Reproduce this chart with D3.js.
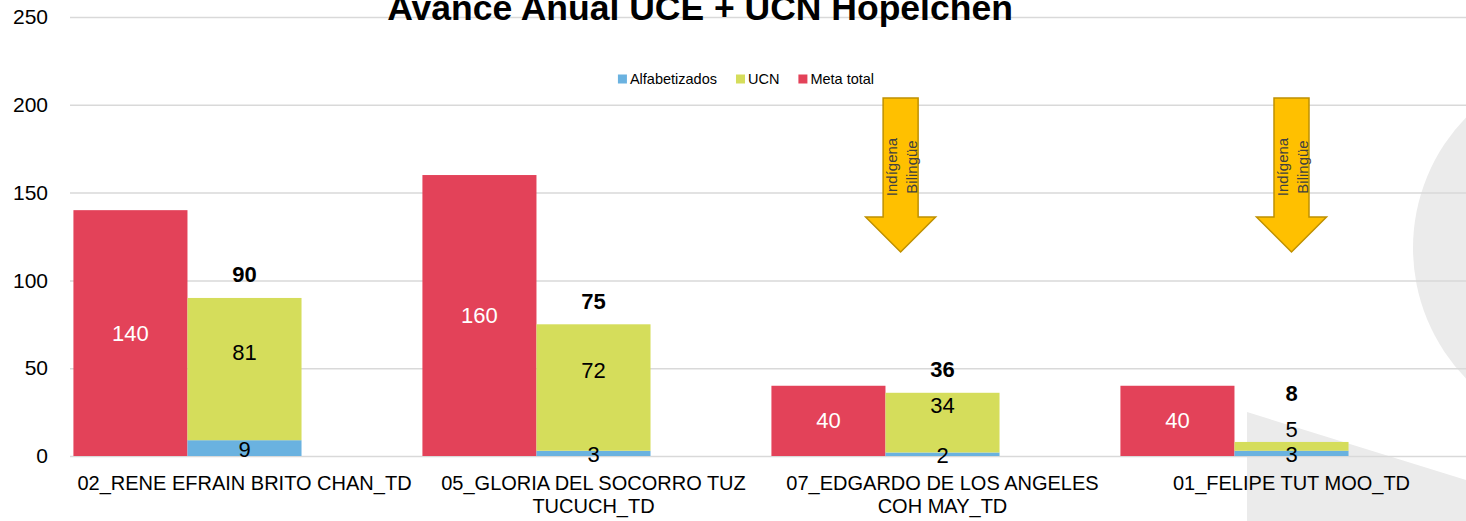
<!DOCTYPE html>
<html>
<head>
<meta charset="utf-8">
<script src="https://cdn.jsdelivr.net/npm/d3@7.9.0/dist/d3.min.js"></script>
<style>
  html, body { margin: 0; padding: 0; background: #fff; }
  svg { display: block; font-family: "Liberation Sans", Arial, sans-serif; }
</style>
</head>
<body>
<div id="chart"></div>
<script>
// data
const categories = [
  "02_RENE EFRAIN BRITO CHAN_TD",
  "05_GLORIA DEL SOCORRO TUZ TUCUCH_TD",
  "07_EDGARDO DE LOS ANGELES COH MAY_TD",
  "01_FELIPE TUT MOO_TD"
];
const alfabetizados = [9, 3, 2, 3];
const ucn = [81, 72, 34, 5];
const metaTotal = [140, 160, 40, 40];
const yTicks = [0, 50, 100, 150, 200, 250];
const seriesNames = ["Alfabetizados", "UCN", "Meta total"];
const arrowCategories = [categories[2], categories[3]];
const arrowText = ["Indígena", "Bilingüe"];
const title = "Avance Anual UCE + UCN Hopelchén";

const colors = { "Alfabetizados": "#6ab2e0", "UCN": "#d5dd5b", "Meta total": "#e34259" };

const width = 1466, height = 521;
const margin = { top: 17, right: 0, bottom: 65, left: 70 };

const svg = d3.select('#chart').append('svg')
  .attr('width', width).attr('height', height);

// light grey decoration in the background (right side)
const bg = svg.append('g').attr('class', 'bg');
bg.append('circle').attr('cx', 1600).attr('cy', 248).attr('r', 187).attr('fill', '#ebebeb');
bg.append('path').attr('d', 'M1247,412 L1466,480 L1466,521 L1247,521 Z').attr('fill', '#ebebeb');

const x = d3.scaleBand().domain(categories).range([margin.left, width - margin.right]);
const xSub = d3.scaleBand().domain(['meta', 'avance', 'blank'])
  .range([0, x.bandwidth()]).paddingOuter(0.03);
const y = d3.scaleLinear().domain([0, 250]).range([height - margin.bottom, margin.top]);

// gridlines + y labels
const yAxis = svg.append('g')
  .attr('transform', `translate(${margin.left},0)`)
  .call(d3.axisLeft(y).tickValues(yTicks).tickSize(-(width - margin.left - margin.right)).tickPadding(22));
yAxis.select('.domain').remove();
yAxis.selectAll('line').attr('stroke', '#d9d9d9').attr('stroke-width', 1.5);
yAxis.selectAll('text').attr('font-size', 21).attr('fill', '#000')
  .attr('font-family', '"Liberation Sans", Arial, sans-serif');

const rows = categories.map((c, i) => ({
  cat: c, alf: alfabetizados[i], ucn: ucn[i], meta: metaTotal[i], total: alfabetizados[i] + ucn[i]
}));

const bars = svg.append('g').attr('class', 'bars');

// Meta total
bars.selectAll('rect.meta').data(rows).join('rect')
  .attr('class', 'meta')
  .attr('x', d => x(d.cat) + xSub('meta'))
  .attr('width', xSub.bandwidth())
  .attr('y', d => y(d.meta))
  .attr('height', d => y(0) - y(d.meta))
  .attr('fill', colors["Meta total"]);

// Alfabetizados (bottom of stack)
bars.selectAll('rect.alf').data(rows).join('rect')
  .attr('class', 'alf')
  .attr('x', d => x(d.cat) + xSub('avance'))
  .attr('width', xSub.bandwidth())
  .attr('y', d => y(d.alf))
  .attr('height', d => y(0) - y(d.alf))
  .attr('fill', colors["Alfabetizados"]);

// UCN on top
bars.selectAll('rect.ucn').data(rows).join('rect')
  .attr('class', 'ucn')
  .attr('x', d => x(d.cat) + xSub('avance'))
  .attr('width', xSub.bandwidth())
  .attr('y', d => y(d.total))
  .attr('height', d => y(d.alf) - y(d.total))
  .attr('fill', colors["UCN"]);

// labels
const labels = svg.append('g').attr('class', 'labels').attr('font-size', 22);
const ucnLabelY = d => (y(d.alf) + y(d.total)) / 2 - 17;

labels.selectAll('text.meta').data(rows).join('text')
  .attr('x', d => x(d.cat) + xSub('meta') + xSub.bandwidth() / 2)
  .attr('y', d => (y(0) + y(d.meta)) / 2)
  .attr('text-anchor', 'middle').attr('dominant-baseline', 'central')
  .attr('fill', '#fff').text(d => d.meta);

labels.selectAll('text.alf').data(rows).join('text')
  .attr('x', d => x(d.cat) + xSub('avance') + xSub.bandwidth() / 2)
  .attr('y', d => (y(0) + y(d.alf)) / 2 + 1)
  .attr('text-anchor', 'middle').attr('dominant-baseline', 'central')
  .attr('fill', '#000').text(d => d.alf);

labels.selectAll('text.ucn').data(rows).join('text')
  .attr('x', d => x(d.cat) + xSub('avance') + xSub.bandwidth() / 2)
  .attr('y', ucnLabelY)
  .attr('text-anchor', 'middle').attr('dominant-baseline', 'central')
  .attr('fill', '#000').text(d => d.ucn);

labels.selectAll('text.total').data(rows).join('text')
  .attr('x', d => x(d.cat) + xSub('avance') + xSub.bandwidth() / 2)
  .attr('y', d => Math.min(y(d.total) - 23, ucnLabelY(d) - 36))
  .attr('text-anchor', 'middle').attr('dominant-baseline', 'central')
  .attr('font-weight', 'bold').attr('fill', '#000').text(d => d.total);

// category labels, wrapped to band width
const catG = svg.append('g').attr('class', 'cats');
categories.forEach(c => {
  const t = catG.append('text')
    .attr('x', x(c) + x.bandwidth() / 2)
    .attr('y', y(0) + 34)
    .attr('text-anchor', 'middle')
    .attr('font-size', 20).attr('fill', '#000');
  const words = c.split(' ');
  let line = [];
  let tspan = t.append('tspan').attr('x', x(c) + x.bandwidth() / 2).attr('dy', 0);
  words.forEach(w => {
    line.push(w);
    tspan.text(line.join(' '));
    if (tspan.node().getComputedTextLength() > x.bandwidth() - 4 && line.length > 1) {
      line.pop();
      tspan.text(line.join(' '));
      line = [w];
      tspan = t.append('tspan').attr('x', x(c) + x.bandwidth() / 2).attr('dy', 23).text(w);
    }
  });
});

// legend
const legend = svg.append('g').attr('class', 'legend').attr('font-size', 14.5);
let lx = 0;
seriesNames.forEach(name => {
  const g = legend.append('g').attr('transform', `translate(${lx},0)`);
  g.append('rect').attr('x', 0).attr('y', -4.5).attr('width', 9).attr('height', 9).attr('fill', colors[name]);
  const tx = g.append('text').attr('x', 12).attr('y', 0).attr('dominant-baseline', 'central')
    .attr('fill', '#000').text(name);
  lx += 12 + tx.node().getComputedTextLength() + 19;
});
const legendW = lx - 19;
legend.attr('transform', `translate(${746 - legendW / 2},79)`);

// arrows "Indígena Bilingüe"
const arrowShift = [0.38, 0.5];
arrowCategories.forEach((c, i) => {
  const cx = x(c) + arrowShift[i] * x.step();
  const top = 98, shaftBottom = 217, tip = 252, sw = 17.5, hw = 35;
  svg.append('path')
    .attr('d', `M${cx - sw},${top} L${cx + sw},${top} L${cx + sw},${shaftBottom} L${cx + hw},${shaftBottom} L${cx},${tip} L${cx - hw},${shaftBottom} L${cx - sw},${shaftBottom} Z`)
    .attr('fill', '#ffc000').attr('stroke', '#bf9000').attr('stroke-width', 1.5);
  const tg = svg.append('g').attr('transform', `translate(${cx},167) rotate(-90)`);
  arrowText.forEach((s, j) => {
    tg.append('text').attr('x', 0).attr('y', -9 + j * 20)
      .attr('text-anchor', 'middle').attr('dominant-baseline', 'central')
      .attr('font-size', 15).attr('fill', '#404040').text(s);
  });
});

// title (partly cut by the top edge, as in the source)
svg.append('text')
  .attr('x', 700).attr('y', 20)
  .attr('text-anchor', 'middle')
  .attr('font-size', 35.5).attr('font-weight', 'bold').attr('fill', '#000')
  .text(title);
</script>
</body>
</html>
